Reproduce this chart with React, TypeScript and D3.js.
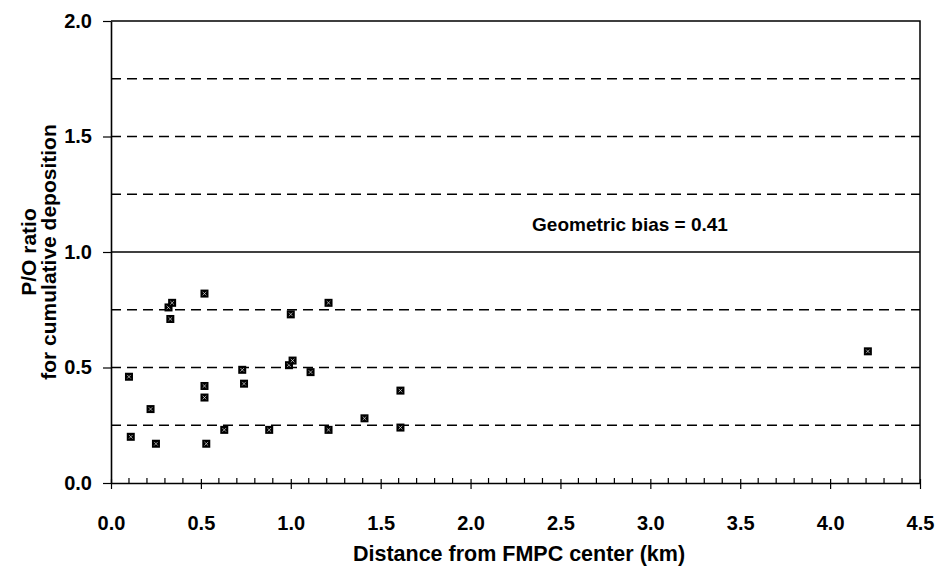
import { useEffect, useRef } from "react";
import * as d3 from "d3";

// distance from FMPC center (km)
const distances = [
  0.1, 0.11, 0.22, 0.25, 0.33, 0.32, 0.34, 0.52, 0.52, 0.52, 0.53, 0.63, 0.73,
  0.74, 0.88, 1.0, 0.99, 1.01, 1.11, 1.21, 1.21, 1.41, 1.61, 1.61, 4.21,
];
// P/O ratio for cumulative deposition
const ratios = [
  0.46, 0.2, 0.32, 0.17, 0.71, 0.76, 0.78, 0.82, 0.42, 0.37, 0.17, 0.23, 0.49,
  0.43, 0.23, 0.73, 0.51, 0.53, 0.48, 0.78, 0.23, 0.28, 0.4, 0.24, 0.57,
];
const xTicks = [0, 0.5, 1, 1.5, 2, 2.5, 3, 3.5, 4, 4.5];
const yTicks = [0, 0.5, 1, 1.5, 2];
const dashedLevels = [0.25, 0.5, 0.75, 1.25, 1.5, 1.75];
const biasLabel = "Geometric bias = 0.41";

export default function App() {
  const svgRef = useRef<SVGSVGElement | null>(null);

  useEffect(() => {
    const svg = d3.select(svgRef.current);
    const width = 939;
    const height = 567;
    const margin = { top: 21, right: 19, bottom: 84, left: 111 };
    const font = "'Liberation Sans', Arial, sans-serif";

    svg.selectAll("*").remove();
    svg.attr("width", width).attr("height", height);

    const x = d3.scaleLinear().domain([0, 4.5]).range([margin.left, width - margin.right]);
    const y = d3.scaleLinear().domain([0, 2]).range([height - margin.bottom, margin.top]);

    // dashed reference lines
    svg.append("g")
      .selectAll("line")
      .data(dashedLevels)
      .enter()
      .append("line")
      .attr("x1", x(0))
      .attr("x2", x(4.5))
      .attr("y1", (d) => y(d))
      .attr("y2", (d) => y(d))
      .attr("stroke", "#000")
      .attr("stroke-width", 1.7)
      .attr("stroke-dasharray", "10,6");

    // solid line at 1.0
    svg.append("line")
      .attr("x1", x(0)).attr("x2", x(4.5))
      .attr("y1", y(1)).attr("y2", y(1))
      .attr("stroke", "#000").attr("stroke-width", 1.6);

    // frame top and right
    svg.append("path")
      .attr("d", `M${x(0)},${y(2)}H${x(4.5)}V${y(0)}`)
      .attr("fill", "none")
      .attr("stroke", "#000")
      .attr("stroke-width", 1.5);

    // x axis
    const xAxis = svg.append("g")
      .attr("transform", `translate(0,${y(0)})`)
      .call(d3.axisBottom(x).tickValues(xTicks).tickFormat(d3.format(".1f")).tickSize(6).tickSizeOuter(0).tickPadding(27));
    xAxis.select(".domain").attr("stroke-width", 1.6);
    xAxis.selectAll(".tick line").attr("y1", -4).attr("stroke-width", 1.2);
    xAxis.selectAll("text")
      .style("font-family", font)
      .style("font-weight", "bold")
      .style("font-size", "20px")
      .attr("fill", "#000");

    // x minor ticks
    svg.append("g")
      .selectAll("line")
      .data(d3.range(0, 4.5, 0.1).filter((d) => Math.abs(d * 2 - Math.round(d * 2)) > 0.01))
      .enter()
      .append("line")
      .attr("x1", (d) => x(d))
      .attr("x2", (d) => x(d))
      .attr("y1", y(0))
      .attr("y2", y(0) - 5)
      .attr("stroke", "#000")
      .attr("stroke-width", 1.2);

    // y axis
    const yAxis = svg.append("g")
      .attr("transform", `translate(${x(0)},0)`)
      .call(d3.axisLeft(y).tickValues(yTicks).tickFormat(d3.format(".1f")).tickSize(8).tickSizeOuter(0).tickPadding(11));
    yAxis.select(".domain").attr("stroke-width", 1.6);
    yAxis.selectAll(".tick line").attr("stroke-width", 1.2);
    yAxis.selectAll("text")
      .style("font-family", font)
      .style("font-weight", "bold")
      .style("font-size", "20px")
      .attr("fill", "#000");

    // axis titles
    svg.append("text")
      .attr("x", 519)
      .attr("y", 561)
      .attr("text-anchor", "middle")
      .style("font-family", font)
      .style("font-weight", "bold")
      .style("font-size", "21.5px")
      .text("Distance from FMPC center (km)");

    const yTitle = svg.append("text")
      .attr("transform", `translate(0,${(y(0) + y(2)) / 2}) rotate(-90)`)
      .attr("text-anchor", "middle")
      .style("font-family", font)
      .style("font-weight", "bold")
      .style("font-size", "21px");
    yTitle.append("tspan").attr("x", 0).attr("y", 36).text("P/O ratio");
    yTitle.append("tspan").attr("x", 0).attr("y", 56).text("for cumulative deposition");

    // annotation
    svg.append("text")
      .attr("x", 630)
      .attr("y", 231)
      .attr("text-anchor", "middle")
      .style("font-family", font)
      .style("font-weight", "bold")
      .style("font-size", "19px")
      .text(biasLabel);

    // markers
    const pts = distances.map((d, i) => ({ d, r: ratios[i] }));
    const mk = svg.append("g")
      .selectAll("g")
      .data(pts)
      .enter()
      .append("g")
      .attr("transform", (p) => `translate(${x(p.d)},${y(p.r)})`);
    mk.append("rect")
      .attr("x", -4).attr("y", -4)
      .attr("width", 8).attr("height", 8)
      .attr("fill", "#000");
    mk.append("path")
      .attr("d", "M-1.8,-1.8L1.8,1.8M1.8,-1.8L-1.8,1.8")
      .attr("stroke", "#fff")
      .attr("stroke-width", 0.6);
  }, []);

  return (
    <svg
      ref={svgRef}
      style={{ position: "absolute", left: 0, top: 0, background: "#fff" }}
    />
  );
}
